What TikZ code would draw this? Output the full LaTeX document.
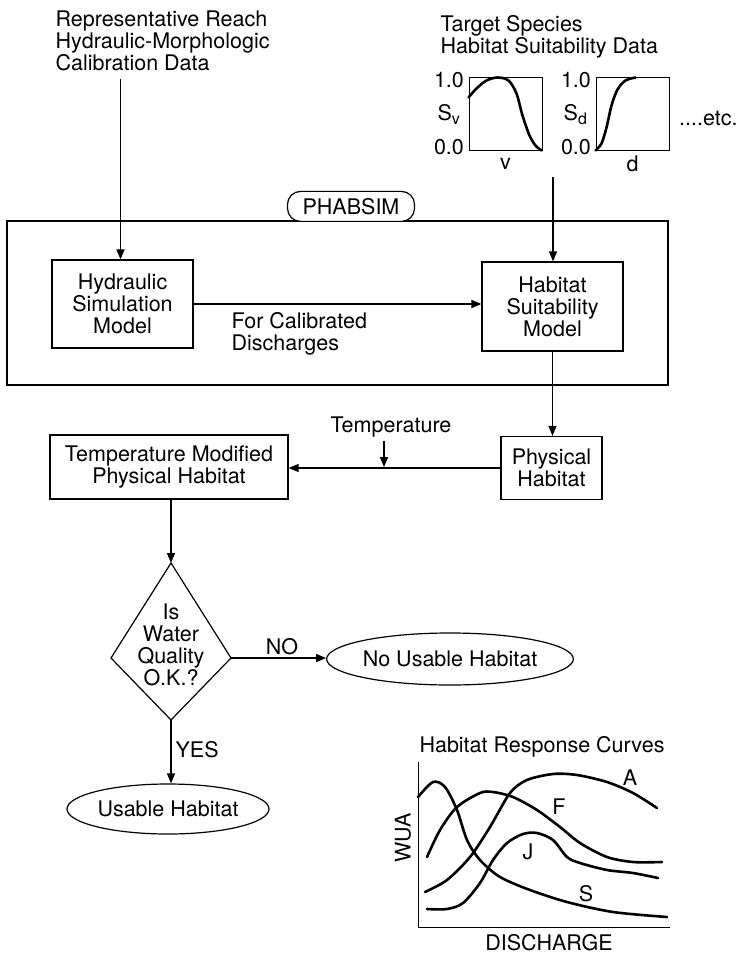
\documentclass[tikz,border=0pt]{standalone}
\usepackage{fontspec}
\setmainfont{TeX Gyre Heros}
\usetikzlibrary{arrows.meta,positioning,shapes.geometric}

\begin{document}
\begin{tikzpicture}[x=1pt,y=-1pt,line width=1.2pt,
    >={Triangle[length=10pt,width=8pt]},
    font=\fontsize{21.5}{22}\selectfont,
    procbox/.style={draw,align=center,inner sep=0pt},
    endoval/.style={draw,ellipse,inner sep=0pt},
    thickcurve/.style={line width=2.6pt,line cap=round}]
  \useasboundingbox (0,0) rectangle (738,957);

  % input data
  \node[align=left,anchor=north west,inner sep=0pt] (reach) at (55,10) {Representative Reach\\Hydraulic-Morphologic\\Calibration Data};
  \node[align=left,anchor=north west,inner sep=0pt] (target) at (440,15) {Target Species\\Habitat Suitability Data};

  % suitability curves
  \node[draw,line width=1pt,minimum size=73pt,inner sep=0pt] (sv) at (505.5,114.5) {};
  \node[draw,line width=1pt,minimum size=73pt,inner sep=0pt] (sd) at (632.5,114.5) {};
  \begin{scope}[shift={(sv.north west)}]
    \draw[thickcurve] plot[smooth] coordinates {(0,20) (8,11) (18,3) (29,0) (40,3) (48,16) (54,38) (61,58) (67,68) (73,73)};
  \end{scope}
  \begin{scope}[shift={(sd.north west)}]
    \draw[thickcurve] plot[smooth] coordinates {(0,73) (6,66) (11,50) (16,28) (22,12) (30,3) (40,0)};
  \end{scope}
  \node[left=4pt of sv.north west,yshift=-3pt,inner sep=0pt] {1.0};
  \node[left=4pt of sv.south west,yshift=4pt,inner sep=0pt] {0.0};
  \node[left=8pt of sv.west,inner sep=0pt] {S\raisebox{-4pt}{\fontsize{16}{16}\selectfont v}};
  \node[below=6pt of sv,inner sep=0pt] {v};
  \node[left=4pt of sd.north west,yshift=-3pt,inner sep=0pt] {1.0};
  \node[left=4pt of sd.south west,yshift=4pt,inner sep=0pt] {0.0};
  \node[left=8pt of sd.west,inner sep=0pt] {S\raisebox{-4pt}{\fontsize{16}{16}\selectfont d}};
  \node[below=4pt of sd,inner sep=0pt] {d};
  \node[right=9pt of sd.east,yshift=-4pt,inner sep=0pt] {....etc.};

  % PHABSIM frame
  \draw (7,221) rectangle (668,385);
  \node[draw,fill=white,rounded corners=13pt,minimum width=127pt,minimum height=30pt,inner sep=0pt,anchor=south] (phabsim) at (351,222) {PHABSIM};

  \node[procbox,minimum width=141pt,minimum height=88pt] (hyd) at (122.5,304) {Hydraulic\\Simulation\\Model};
  \node[procbox,minimum width=141pt,minimum height=89pt] (hsm) at (552.5,306.5) {Habitat\\Suitability\\Model};
  \node[procbox,minimum width=101pt,minimum height=63pt] (phys) at (551.5,468) {Physical\\Habitat};
  \node[procbox,minimum width=238pt,minimum height=64pt] (tmod) at (169,467) {Temperature Modified\\Physical Habitat};

  \coordinate (reachout) at (120.5,79);
  \coordinate (suitout) at (553,177);
  \draw[->] (reachout) -- (reachout |- hyd.north);
  \draw[->] (suitout) -- (suitout |- hsm.north);
  \draw[->] (hyd.east) -- (hyd.east -| hsm.west);
  \node[align=left,anchor=north west,inner sep=0pt] (calib) at (231,312) {For Calibrated\\Discharges};
  \draw[->] (hsm.south) -- (hsm.south |- phys.north);
  \draw[->] (phys.west) -- (phys.west -| tmod.east);

  % temperature input
  \coordinate (tjoin) at (384,467);
  \node[inner sep=3pt] (temp) at (391,427) {Temperature};
  \draw[->] (temp.south -| tjoin) -- (tjoin);

  % water quality test
  \coordinate (qtop) at (171,563);
  \coordinate (qright) at (231,658);
  \coordinate (qbot) at (171,720);
  \coordinate (qleft) at (111,658);
  \draw (qtop) -- (qright) -- (qbot) -- (qleft) -- cycle;
  \node[align=center,inner sep=0pt] (quality) at (171,645) {Is\\Water\\Quality\\O.K.?};
  \draw[->] (tmod.south -| qtop) -- (qtop);

  \node[endoval,minimum width=214pt,minimum height=52pt] (nouse) at (450,659) {No Usable Habitat};
  \node[endoval,minimum width=202pt,minimum height=50pt] (use) at (168,809) {Usable Habitat};
  \draw[->] (qright) -- (qright -| nouse.west);
  \node[anchor=base,inner sep=0pt] (nolbl) at (282,654) {NO};
  \draw[->] (qbot) -- (qbot |- use.north);
  \node[anchor=base west,inner sep=0pt] (yeslbl) at (175,757) {YES};

  % response curves
  \node (rtitle) at (542,747) {Habitat Response Curves};
  \draw[line width=1pt] (418,762) -- (418,927) -- (670,927);
  \node (xlbl) at (549,943) {DISCHARGE};
  \node[rotate=90] (ylbl) at (403,838) {WUA};
  \draw[thickcurve] plot[smooth] coordinates {(418,797) (433,782) (445,787) (457,810) (467,840) (480,860) (500,877) (530,890) (567,902) (613,912) (667,917)};
  \draw[thickcurve] plot[smooth] coordinates {(427,857) (440,830) (457,807) (480,793) (493,792) (513,797) (537,810) (560,827) (580,843) (607,857) (633,862) (662,862)};
  \draw[thickcurve] plot[smooth] coordinates {(425,892) (447,880) (470,857) (490,827) (510,793) (527,780) (553,774) (577,775) (607,782) (633,793) (657,808)};
  \draw[thickcurve] plot[smooth] coordinates {(427,909) (447,909) (463,903) (480,883) (493,860) (507,843) (523,834) (537,833) (553,840) (567,857) (580,863) (607,870) (633,873) (658,878)};
  \node (lblA) at (630,778) {A};
  \node (lblF) at (559,807) {F};
  \node (lblJ) at (528,852) {J};
  \node (lblS) at (586,894) {S};
\end{tikzpicture}
\end{document}
